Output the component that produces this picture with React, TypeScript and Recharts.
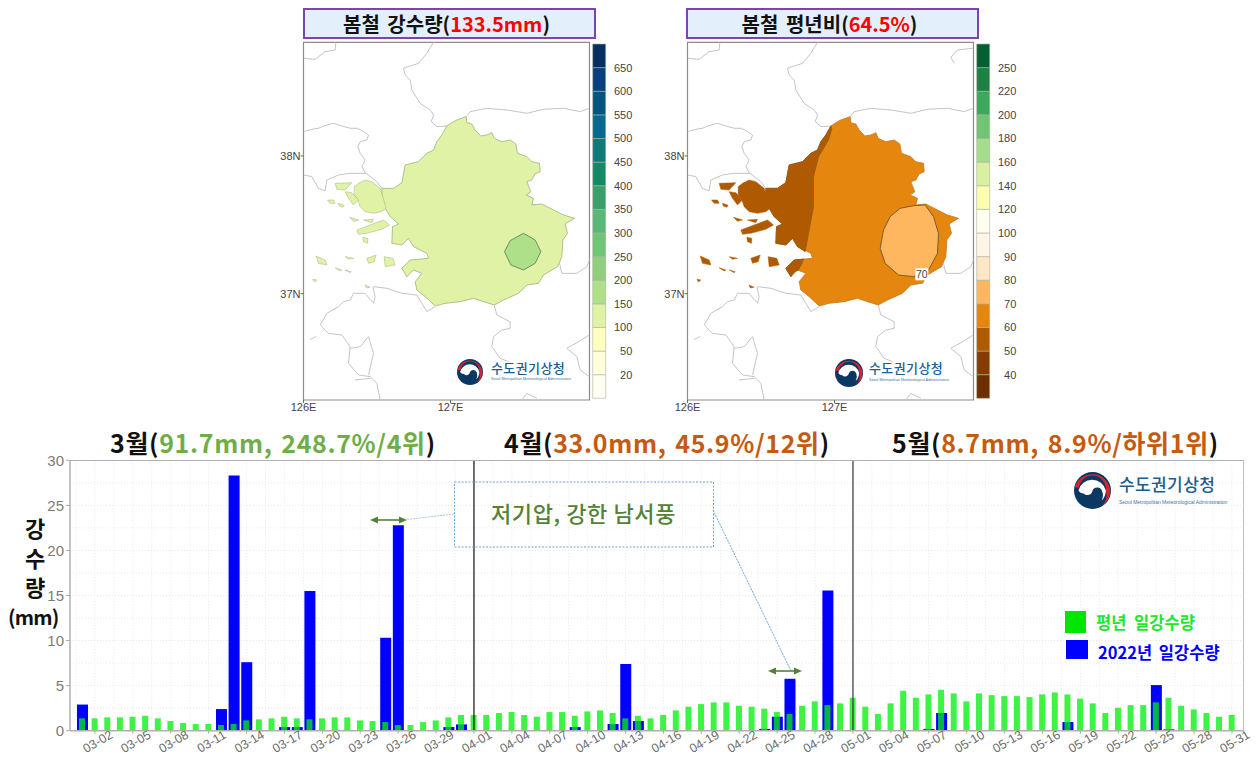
import React from "react";
import {
  BarChart, Bar, XAxis, YAxis, CartesianGrid, ReferenceLine, ScatterChart, Scatter, ReferenceArea,
} from "recharts";

const KR = '"Noto Sans CJK KR", "Noto Sans", sans-serif';
const AR = '"Liberation Sans", Arial, sans-serif';

// ---------- daily rainfall ----------
const monthDays = [["03", 31], ["04", 30], ["05", 31]] as const;
const dates: string[] = monthDays.flatMap(([m, n]) =>
  Array.from({ length: n }, (_, i) => `${m}-${String(i + 1).padStart(2, "0")}`)
);
const normalMarch = [1.37,1.37,1.48,1.48,1.55,1.66,1.37,1.07,0.85,0.74,0.74,0.63,0.74,1.14,1.26,1.37,1.55,1.37,1.26,1.37,1.48,1.48,1.14,1.07,0.96,0.63,0.63,0.96,1.14,1.48,1.74];
const normalApril = [1.74,1.74,1.96,2.07,1.74,1.55,2.07,2.07,1.66,2.14,2.25,1.96,1.37,1.66,1.37,1.74,2.25,2.66,2.95,3.14,3.14,2.77,2.66,2.44,2.07,1.85,2.77,3.25,2.84,3.03];
const normalMay = [3.66,2.66,1.85,3.03,4.43,3.66,4.03,4.54,4.14,3.25,4.14,3.95,3.84,3.84,3.73,4.03,4.25,4.03,3.55,3.03,1.96,2.55,2.84,2.84,3.14,3.66,2.77,2.36,1.96,1.55,1.74];
const rainMarch = [2.9,0,0,0,0,0,0,0,0,0,0,2.4,28.3,7.6,0,0,0.4,0.4,15.5,0.05,0,0,0,0,10.3,22.8,0,0,0,0.4,0.7];
const rainApril = [0,0,0,0,0,0,0,0,0.4,0,0,0.74,7.4,1.07,0.05,0,0,0,0,0,0,0,0,0.2,1.55,5.76,0,0,15.55,0];
const rainMay = [0,0,0,0,0,0,0.2,1.96,0,0,0,0,0,0,0,0,0,0.96,0,0,0,0,0,0,5.06,0.15,0,0,0,0.05,0];
const normalValues = [...normalMarch, ...normalApril, ...normalMay];
const rainValues = [...rainMarch, ...rainApril, ...rainMay];
const tickDates = ["03-02","03-05","03-08","03-11","03-14","03-17","03-20","03-23","03-26","03-29","04-01","04-04","04-07","04-10","04-13","04-16","04-19","04-22","04-25","04-28","05-01","05-04","05-07","05-10","05-13","05-16","05-19","05-22","05-25","05-28","05-31"];
const yTicks = [0, 5, 10, 15, 20, 25, 30];
const yGrid = [2.5, 5, 7.5, 10, 12.5, 15, 17.5, 20, 22.5, 25, 27.5];
const monthStarts = ["04-01", "05-01"];
const rows = dates.map((date, i) => ({ date, normal: normalValues[i], rain: rainValues[i] }));

// ---------- map geometry (map grid units) ----------
type P = [number, number];
const lonTicks = [100, 541];
const lonLabels = ["126E", "127E"];
const latTicks = [468, 881];
const latLabels = ["38N", "37N"];
const capitalArea: P[] = [[530,378],[545,368],[560,360],[588,350],[590,368],[605,372],[615,390],[632,408],[650,405],[665,398],[672,415],[695,425],[720,420],[737,432],[742,460],[770,470],[785,485],[808,490],[810,515],[795,522],[785,540],[770,545],[782,575],[768,585],[790,595],[785,615],[815,612],[850,630],[880,645],[913,655],[885,672],[892,700],[878,720],[875,770],[862,800],[820,825],[805,850],[770,855],[745,880],[700,900],[672,915],[640,905],[610,895],[570,905],[525,910],[495,918],[465,890],[440,870],[435,845],[455,820],[430,810],[410,830],[395,805],[420,780],[475,775],[470,760],[430,740],[415,715],[395,735],[365,730],[367,680],[385,672],[360,650],[345,625],[335,590],[335,565],[370,565],[395,548],[405,495],[445,485],[470,460],[490,450],[500,425],[515,405]];
const islands: P[][] = [
  [[252,560],[265,550],[285,540],[305,545],[330,565],[338,590],[348,625],[335,635],[310,640],[285,635],[270,620],[262,597],[252,585]],
  [[195,550],[245,548],[225,570],[200,568]],
  [[225,575],[245,578],[265,600],[250,615],[235,595]],
  [[172,600],[190,600],[195,610],[180,610]],
  [[205,610],[222,616],[218,622],[207,618]],
  [[260,690],[300,675],[340,660],[358,675],[335,688],[290,700],[265,703]],
  [[238,652],[265,660],[250,664]],
  [[280,660],[310,658],[305,668]],
  [[278,712],[293,715],[292,730],[280,725]],
  [[138,768],[165,780],[170,795],[145,790]],
  [[225,770],[250,775],[235,778]],
  [[290,775],[318,765],[312,785],[295,790]],
  [[342,770],[368,775],[375,795],[345,800]],
  [[195,803],[215,810],[210,813]],
  [[225,810],[243,815],[240,818]],
  [[128,838],[140,840],[133,846]],
  [[285,855],[300,862],[288,864]],
];
const coastLines: P[][] = [
  [[100,175],[135,178],[165,155],[195,150],[197,127]],
  [[490,127],[470,160],[445,190],[400,205],[405,225],[420,240],[425,270],[450,310],[480,330],[490,345],[483,365],[500,380],[530,378]],
  [[588,350],[600,335],[650,325],[710,330],[770,340],[820,328],[880,325],[930,335],[958,325]],
  [[100,395],[125,388],[145,385],[160,378],[190,370],[215,378],[240,385],[262,385],[280,395],[295,405],[290,420],[270,425],[263,440],[270,460],[285,480],[275,500],[285,518],[320,545],[335,565]],
  [[100,525],[125,530],[145,565],[165,573],[170,540],[205,525],[240,520],[290,520]],
  [[310,860],[350,865],[395,880],[440,885],[470,935],[495,920]],
  [[672,915],[680,945],[720,965],[720,985],[695,990],[670,1010],[665,1040],[690,1075],[715,1085]],
  [[868,790],[875,820],[920,820],[950,800],[958,780]],
  [[308,860],[315,890],[310,910],[285,880],[250,880],[240,900],[220,905],[205,920],[170,940],[150,975],[175,1000],[215,1005],[240,1040],[235,1090],[265,1125],[300,1130],[320,1150],[330,1200]],
  [[240,1045],[270,1040],[295,1010],[310,1060],[295,1125]],
  [[958,1005],[925,1025],[890,1045],[920,1070],[930,1110],[958,1130]],
  [[755,1200],[770,1180],[800,1195]],
  [[120,1018],[138,1010]],
  [[255,1140],[300,1135]],
];
const extraCoast: P[][] = [[[956,145],[910,150],[890,172],[900,190]]];
const rainBlob: P[] = [[703,755],[720,722],[760,700],[795,720],[812,755],[795,790],[760,810],[722,795]];
const ratioBlob: P[] = [[708,650],[738,625],[778,617],[813,615],[838,650],[853,700],[850,760],[823,810],[778,830],[733,825],[693,790],[678,745],[688,690]];
const ratioWestUpper: P[] = [[533,385],[523,420],[493,470],[478,530],[478,620],[463,700],[453,755],[430,740],[415,715],[395,735],[365,730],[367,680],[385,672],[360,650],[345,625],[335,590],[335,565],[370,565],[395,548],[405,495],[445,485],[470,460],[490,450],[500,425],[515,405],[530,378]];
const ratioWestLower: P[] = [[420,780],[449,777],[433,810],[420,815],[410,830],[395,805]];
const ratioContour: P[] = [[803, 823]];

// ---------- colour bars ----------
const rainLevels = ["20","50","100","150","200","250","300","350","400","450","500","550","600","650"];
const rainColours = ["#fffff2","#ffffdc","#ffffbf","#dff2a6","#aee08a","#90cf7c","#70c475","#59b877","#3a9f6a","#148a64","#0f7a7a","#056a8c","#05557f","#08407c","#06305f"];
const ratioLevels = ["40","50","60","70","80","90","100","120","140","160","180","200","220","250"];
const ratioColours = ["#6d2e00","#843c02","#b05a00","#e5860f","#feb75f","#ffe6c4","#fff5e6","#fffff0","#fbfdb0","#d9f0a3","#a6dd8c","#71c476","#3ea75e","#1f8043","#055f33"];

const pts = (a: P[]) => a.map(([x, y]) => ({ x, y }));

const poly = (key: string, points: P[], fill: string, stroke: string, sw = 0.8) => (
  <Scatter
    key={key}
    data={pts(points)}
    shape={() => <g />}
    line={{ fill, stroke, strokeWidth: sw }}
    lineJointType="linearClosed"
    isAnimationActive={false}
  />
);
const open = (key: string, points: P[]) => (
  <Scatter
    key={key}
    data={pts(points)}
    shape={() => <g />}
    line={{ fill: "none", stroke: "#c4c4c4", strokeWidth: 1 }}
    isAnimationActive={false}
  />
);

function MapPanel({ left, children, coast }: { left: number; children: React.ReactNode; coast: P[][] }) {
  return (
    <div style={{ position: "absolute", left, top: 30 }}>
      <ScatterChart width={340} height={400} margin={{ top: 12.3, right: 10.5, bottom: 5, left: 13.5 }}>
        <XAxis
          type="number" dataKey="x" domain={[100, 958]} ticks={lonTicks} height={25} allowDataOverflow
          tickFormatter={(v: number) => lonLabels[lonTicks.indexOf(v)]}
          tick={{ fontSize: 11, fill: "#444", fontFamily: AR }} tickSize={3} tickMargin={0} axisLine={false} stroke="#666"
        />
        <YAxis
          type="number" dataKey="y" domain={[127, 1200]} reversed ticks={latTicks} width={30} allowDataOverflow
          tickFormatter={(v: number) => latLabels[latTicks.indexOf(v)]}
          tick={{ fontSize: 11, fill: "#444", fontFamily: AR }} tickSize={3} tickMargin={0} axisLine={false} stroke="#666"
        />
        {coast.map((c, i) => open(`c${i}`, c))}
        {children}
        <ReferenceArea x1={100} x2={958} y1={127} y2={1200} fill="none" stroke="#8c8c8c" strokeWidth={1.2} ifOverflow="visible" />
      </ScatterChart>
    </div>
  );
}

function ColourBar({ left, levels, colours }: { left: number; levels: string[]; colours: string[] }) {
  const row: Record<string, number> = {};
  colours.forEach((_, i) => (row[`s${i}`] = 1));
  const ticks = levels.map((_, i) => i + 1);
  return (
    <div style={{ position: "absolute", left, top: 34 }}>
      <BarChart width={45} height={374} data={[row]} margin={{ top: 10, right: 0, bottom: 9.7, left: 2.7 }} barCategoryGap={0}>
        <XAxis hide />
        <YAxis
          orientation="right" type="number" domain={[0, 15]} ticks={ticks} width={29.7} axisLine={false} tickLine={false} interval={0}
          tick={(p: any) => (
            <text x={p.x + 19} y={p.y} textAnchor="end" dominantBaseline="central" fontSize={11} fill="#444" fontFamily={AR}>
              {levels[p.payload.value - 1]}
            </text>
          )}
        />
        {colours.map((c, i) => (
          <Bar key={i} dataKey={`s${i}`} stackId="a" fill={c} stroke="#a9b3a0" strokeWidth={0.6} isAnimationActive={false} />
        ))}
      </BarChart>
    </div>
  );
}

function Logo({ x, y, r, tx, size, subSize, subY }: { x: number; y: number; r: number; tx: number; size: number; subSize: number; subY: number }) {
  return (
    <div style={{ position: "absolute", left: 0, top: 0, pointerEvents: "none" }}>
      <svg width={r * 2} height={r * 2} viewBox="0 0 100 100" style={{ position: "absolute", left: x - r, top: y - r }}>
        <circle cx="50" cy="50" r="50" fill="#0b3763" />
        <path d="M2 42 A49 49 0 0 1 98 50 A49 49 0 0 1 76 91 A42 42 0 0 0 86 50 A36 36 0 0 0 14 42 Z" fill="#d8232f" />
        <path d="M12 50 A38 38 0 0 1 86 50 A38 38 0 0 1 74 78 A30 30 0 0 0 76 52 A14 14 0 0 0 50 50 A14 14 0 0 1 26 58 A16 16 0 0 1 12 50 Z" fill="#ffffff" />
      </svg>
      <div style={{ position: "absolute", left: tx, top: y - r + r * 0.28 - size * 0.12, fontFamily: KR, fontWeight: 500, fontSize: size, lineHeight: 1.1, color: "#1c5d90", whiteSpace: "nowrap", letterSpacing: 0.4 }}>
        수도권기상청
      </div>
      <div style={{ position: "absolute", left: tx, top: subY, fontFamily: AR, fontSize: subSize, lineHeight: 1, color: "#3f76a8", whiteSpace: "nowrap" }}>
        Seoul Metropolitan Meteorological Administration
      </div>
    </div>
  );
}

function Title({ left, label, value }: { left: number; label: string; value: string }) {
  return (
    <div style={{ position: "absolute", left, top: 8, width: 283, height: 27, background: "#e3f0fc", border: "2px solid #7a45b0", textAlign: "center", fontFamily: KR, fontWeight: 700, fontSize: 20, wordSpacing: 3, lineHeight: "27px", color: "#111", whiteSpace: "nowrap", paddingRight: 6, boxSizing: "content-box" }}>
      {label}(<span style={{ color: "#ff0000" }}>{value}</span>)
    </div>
  );
}

function Month({ left, month, value, colour }: { left: number; month: string; value: string; colour: string }) {
  return (
    <div style={{ position: "absolute", left, top: 423, fontFamily: KR, fontWeight: 700, fontSize: 25, letterSpacing: 0.65, wordSpacing: 2.5, lineHeight: "38px", color: "#111", whiteSpace: "nowrap" }}>
      {month}(<span style={{ color: colour }}>{value}</span>)
    </div>
  );
}

const DateTick = (p: any) => (
  <text
    x={p.x + 3} y={p.y + 6} fontSize={12.5} fill="#6c6c6c" fontFamily={AR}
    textAnchor="middle" dominantBaseline="central"
    transform={`rotate(-30 ${p.x + 3} ${p.y + 6})`}
  >
    {p.payload.value}
  </text>
);

const Arrow = ({ x1, x2, y }: { x1: number; x2: number; y: number }) => (
  <g>
    <line x1={x1 + 4} x2={x2 - 4} y1={y} y2={y} stroke="#548235" strokeWidth={1.6} />
    <polygon points={`${x1},${y} ${x1 + 8},${y - 3.5} ${x1 + 8},${y + 3.5}`} fill="#548235" />
    <polygon points={`${x2},${y} ${x2 - 8},${y - 3.5} ${x2 - 8},${y + 3.5}`} fill="#548235" />
  </g>
);

export default function App() {
  return (
    <div style={{ position: "absolute", left: 0, top: 0, width: 1257, height: 757, overflow: "hidden", background: "#fff" }}>
      <Title left={303} label="봄철 강수량" value="133.5mm" />
      <Title left={686} label="봄철 평년비" value="64.5%" />

      <MapPanel left={260} coast={coastLines}>
        {poly("main", capitalArea, "#dff2a6", "#a3b07e")}
        {islands.map((p, i) => poly(`i${i}`, p, "#dff2a6", "#a3b07e", 0.5))}
        {poly("blob", rainBlob, "#aee08a", "#6f8f5f", 1)}
      </MapPanel>
      <ColourBar left={590} levels={rainLevels} colours={rainColours} />
      <Logo x={470} y={372} r={13} tx={491} size={13} subSize={3.7} subY={378} />

      <MapPanel left={643.5} coast={[...coastLines, ...extraCoast]}>
        {poly("main", capitalArea, "#e5860f", "#c07a25")}
        {poly("west1", ratioWestUpper, "#b05a00", "#8a5a20")}
        {poly("west2", ratioWestLower, "#b05a00", "#8a5a20")}
        {islands.map((p, i) => poly(`i${i}`, p, "#b05a00", "#b05a00", 0.5))}
        {poly("blob", ratioBlob, "#feb75f", "#7d5a30", 1)}
        <Scatter
          data={pts(ratioContour)}
          isAnimationActive={false}
          shape={(p: any) => (
            <g>
              <rect x={p.cx - 6.5} y={p.cy - 6} width={13} height={12} fill="#fff" />
              <text x={p.cx} y={p.cy} textAnchor="middle" dominantBaseline="central" fontSize={10.5} fill="#444" fontFamily={AR}>70</text>
            </g>
          )}
        />
      </MapPanel>
      <ColourBar left={973.5} levels={ratioLevels} colours={ratioColours} />
      <Logo x={849} y={373} r={14} tx={869} size={13} subSize={3.7} subY={379} />

      <Month left={110} month="3월" value="91.7mm, 248.7%/4위" colour="#70ad47" />
      <Month left={504} month="4월" value="33.0mm, 45.9%/12위" colour="#c55a11" />
      <Month left={892} month="5월" value="8.7mm, 8.9%/하위1위" colour="#c55a11" />

      <div style={{ position: "absolute", left: 0, top: 440 }}>
        <BarChart width={1257} height={317} data={rows} margin={{ top: 20.3, right: 12.7, bottom: 0.3, left: 30 }}>
          <CartesianGrid
            stroke="#e8e8e8" strokeDasharray="1 2"
            horizontalValues={yGrid}
            verticalCoordinatesGenerator={({ offset }: any) => {
              const step = (offset.width - 12) / dates.length;
              const out: number[] = [];
              for (let i = -0.5; i < dates.length; i += 1.5) out.push(offset.left + 6 + (i + 0.5) * step);
              return out;
            }}
          />
          <XAxis
            xAxisId={0} dataKey="date" ticks={tickDates} interval={0} padding={{ left: 6, right: 6 }} height={26}
            tick={DateTick} tickSize={3} tickLine={{ stroke: "#aaa" }} axisLine={{ stroke: "#b0b0b0", strokeWidth: 1.5 }}
          />
          <XAxis xAxisId={1} dataKey="date" hide padding={{ left: 6, right: 6 }} />
          <YAxis
            domain={[0, 30]} ticks={yTicks} width={40} interval={0}
            tick={{ fontSize: 15, fill: "#7b7b7b", fontFamily: AR }} tickSize={4}
            tickLine={{ stroke: "#aaa" }} axisLine={{ stroke: "#b0b0b0", strokeWidth: 1.5 }}
          />
          <Bar xAxisId={0} dataKey="rain" barSize={11} fill="#0000ff" isAnimationActive={false} />
          <Bar xAxisId={1} dataKey="normal" barSize={6} fill="#00f00a" fillOpacity={0.76} isAnimationActive={false} />
          <ReferenceLine xAxisId={0} x={monthStarts[0]} stroke="#111" strokeWidth={1.2} />
          <ReferenceLine xAxisId={0} x={monthStarts[1]} stroke="#333" strokeWidth={1.2} />
        </BarChart>
      </div>

      {/* panel frame */}
      <div style={{ position: "absolute", left: 70, top: 460, width: 1174, height: 271, boxSizing: "border-box", borderTop: "1.5px solid #b0b0b0", borderRight: "1.5px solid #c0c0c0", pointerEvents: "none" }} />

      {/* y-axis title */}
      {[["강", 527], ["수", 557], ["량", 586]].map(([t, y]) => (
        <div key={t as string} style={{ position: "absolute", left: 20, top: (y as number) - 15, width: 30, textAlign: "center", fontFamily: KR, fontWeight: 700, fontSize: 22, lineHeight: "30px", color: "#111" }}>{t}</div>
      ))}
      <div style={{ position: "absolute", left: 8, top: 607, fontFamily: KR, fontWeight: 700, fontSize: 20, lineHeight: "20px", letterSpacing: -0.8, color: "#111", whiteSpace: "nowrap" }}>(mm)</div>

      {/* annotation */}
      <svg width={1257} height={757} style={{ position: "absolute", left: 0, top: 0, pointerEvents: "none" }}>
        <rect x={454.5} y={482} width={259} height={65} fill="none" stroke="#6aa8e0" strokeWidth={1} strokeDasharray="2 1.5" />
        <line x1={454} y1={514} x2={407} y2={519.5} stroke="#a9c9ee" strokeWidth={1} strokeDasharray="2 1" />
        <line x1={713} y1={510} x2={791} y2={671} stroke="#6aa8e0" strokeWidth={1} strokeDasharray="2 1" />
        <Arrow x1={370} x2={407} y={520} />
        <Arrow x1={768} x2={802} y={671} />
      </svg>
      <div style={{ position: "absolute", left: 454, top: 495, width: 259, textAlign: "center", fontFamily: KR, fontWeight: 500, fontSize: 22, letterSpacing: 0.6, lineHeight: "34px", color: "#548235", whiteSpace: "nowrap" }}>
        저기압, 강한 남서풍
      </div>

      <Logo x={1092} y={490} r={18.5} tx={1119} size={17} subSize={5} subY={500} />

      {/* legend */}
      <div style={{ position: "absolute", left: 1065, top: 611, width: 21, height: 22, background: "#00e600" }} />
      <div style={{ position: "absolute", left: 1066, top: 640, width: 22, height: 19, background: "#0000ff" }} />
      <div style={{ position: "absolute", left: 1096, top: 611, fontFamily: KR, fontWeight: 700, fontSize: 16.5, wordSpacing: 4, lineHeight: "22px", color: "#22e62c", whiteSpace: "nowrap" }}>평년 일강수량</div>
      <div style={{ position: "absolute", left: 1098, top: 641, fontFamily: KR, fontWeight: 700, fontSize: 16.5, wordSpacing: 3, lineHeight: "22px", color: "#0000ff", whiteSpace: "nowrap" }}>2022년 일강수량</div>
    </div>
  );
}
